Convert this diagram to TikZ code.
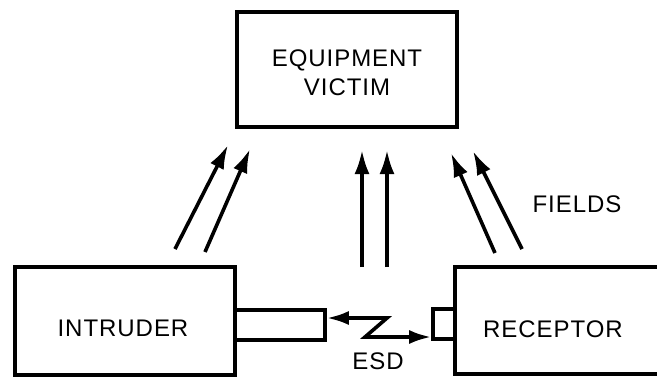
\documentclass[tikz,border=0pt]{standalone}
\usepackage{fontspec}
\setmainfont{Liberation Sans}[LetterSpace=4]
\usetikzlibrary{arrows.meta}
\begin{document}
\begin{tikzpicture}[x=1pt,y=-1pt,
  box/.style={draw,line width=3.6pt,rectangle,inner sep=0pt},
  lbl/.style={font=\fontsize{24}{29}\selectfont,align=center,inner sep=0pt},
  fld/.style={line width=3.6pt,-{Latex[length=24pt,width=15pt]}},
  esd/.style={line width=3.6pt,{Latex[length=22pt,width=14pt]}-{Latex[length=22pt,width=14pt]}}]
\useasboundingbox (0,0) rectangle (657,384);
% boxes
\node[box,minimum width=220pt,minimum height=115pt] (victim) at (347,69.5) {};
\node[lbl] at (347,73) {EQUIPMENT\\VICTIM};
\node[box,minimum width=220pt,minimum height=108pt] (intruder) at (125,321) {};
\node[lbl] at (123,328) {INTRUDER};
\coordinate (rtr) at (662,267);
\coordinate (rtl) at (455,267);
\coordinate (rbl) at (455,374);
\coordinate (rbr) at (662,374);
\draw[line width=3.6pt] (rtr) -- (rtl) -- (rbl) -- (rbr);
\node[lbl] (receptor) at (553,329) {RECEPTOR};
% ports
\node[box,minimum width=90pt,minimum height=30pt] (iport) at (280,325) {};
\node[box,minimum width=22pt,minimum height=30pt] (rport) at (444,324) {};
% ESD
\coordinate (z1) at (387,318);
\coordinate (z2) at (365,337);
\draw[esd] (iport.east |- 0,318) -- (z1) -- (z2) -- (rport.west |- 0,337);
\node[lbl] (esdl) at (378,361) {ESD};
\node[lbl] (fields) at (577,204) {FIELDS};
% field arrows
\coordinate (a1s) at (175,249); \coordinate (a1e) at (228,145);
\coordinate (a2s) at (205,252); \coordinate (a2e) at (250,149);
\coordinate (a3s) at (362,267); \coordinate (a3e) at (362,150);
\coordinate (a4s) at (387,267); \coordinate (a4e) at (387,150);
\coordinate (a5s) at (495,253); \coordinate (a5e) at (451,153);
\coordinate (a6s) at (522,249); \coordinate (a6e) at (473,151);
\foreach \i in {1,...,6} \draw[fld] (a\i s) -- (a\i e);
\end{tikzpicture}
\end{document}
